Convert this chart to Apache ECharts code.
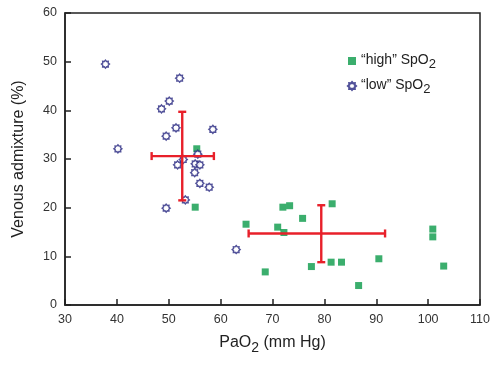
<!DOCTYPE html>
<html><head><meta charset="utf-8">
<script src="https://cdn.jsdelivr.net/npm/echarts@6/dist/echarts.min.js"></script>
<style>html,body{margin:0;padding:0;background:#fff}#c{width:500px;height:365px}</style>
</head><body><div id="c"></div>
<script>
var xTicks = [30, 40, 50, 60, 70, 80, 90, 100, 110];
var yTicks = [0, 10, 20, 30, 40, 50, 60];
var lowX = [37.8, 52.1, 50.1, 48.6, 51.4, 58.5, 49.5, 40.2, 55.6, 52.8, 51.7, 55.1, 56.0, 55.0, 56.0, 57.8, 53.2, 49.5, 63.0];
var lowY = [49.5, 46.6, 41.9, 40.3, 36.4, 36.1, 34.7, 32.1, 31.0, 29.9, 28.8, 29.0, 28.8, 27.2, 25.0, 24.2, 21.6, 19.9, 11.4];
var highX = [55.4, 55.1, 64.9, 72.0, 73.3, 75.8, 71.0, 72.2, 81.5, 68.6, 77.5, 81.3, 83.3, 90.5, 86.6, 100.9, 100.9, 103.0];
var highY = [32.1, 20.1, 16.6, 20.1, 20.4, 17.8, 16.0, 14.9, 20.8, 6.8, 7.9, 8.8, 8.8, 9.5, 4.0, 15.6, 14.0, 8.0];
// mean, x low, x high, y low, y high
var lowMean = [52.6, 30.6, 46.7, 58.7, 21.5, 39.7];
var highMean = [79.4, 14.7, 65.4, 91.7, 8.8, 20.5];

function zip(a, b) { return a.map(function (v, i) { return [v, b[i]]; }); }

// gear/star symbol
var pts = [];
for (var k = 0; k < 16; k++) {
  var r = (k % 2 === 0) ? 10 : 7.2;
  var a = k * Math.PI / 8;
  pts.push((10 + r * Math.sin(a)).toFixed(2) + ' ' + (10 - r * Math.cos(a)).toFixed(2));
}
var starPath = 'path://M' + pts.join(' L') + ' Z';

var chart = echarts.init(document.getElementById('c'));
var FONT = 'Liberation Sans, Arial, sans-serif';

function errRender(params, api) {
  var cx = api.value(0), cy = api.value(1);
  var x0 = api.value(2), x1 = api.value(3), y0 = api.value(4), y1 = api.value(5);
  var pL = api.coord([x0, cy]), pR = api.coord([x1, cy]);
  var pB = api.coord([cx, y0]), pT = api.coord([cx, y1]);
  var c = 4;
  var st = { stroke: '#e8202a', lineWidth: 2.4 };
  return {
    type: 'group',
    children: [
      { type: 'line', shape: { x1: pL[0], y1: pL[1], x2: pR[0], y2: pR[1] }, style: st },
      { type: 'line', shape: { x1: pB[0], y1: pB[1], x2: pT[0], y2: pT[1] }, style: st },
      { type: 'line', shape: { x1: pL[0], y1: pL[1] - c, x2: pL[0], y2: pL[1] + c }, style: st },
      { type: 'line', shape: { x1: pR[0], y1: pR[1] - c, x2: pR[0], y2: pR[1] + c }, style: st },
      { type: 'line', shape: { x1: pT[0] - c, y1: pT[1], x2: pT[0] + c, y2: pT[1] }, style: st },
      { type: 'line', shape: { x1: pB[0] - c, y1: pB[1], x2: pB[0] + c, y2: pB[1] }, style: st }
    ]
  };
}

var subRich = {
  a: { fontSize: 14, color: '#222', fontFamily: FONT, verticalAlign: 'top', lineHeight: 16 },
  s: { fontSize: 13, color: '#222', fontFamily: FONT, verticalAlign: 'top', lineHeight: 16, padding: [5, 0, 0, 0] }
};

chart.setOption({
  animation: false,
  grid: { left: 65, right: 20, top: 13, bottom: 60, show: true, borderColor: '#222', borderWidth: 1.5 },
  legend: {
    left: 342, top: 48, orient: 'vertical', itemGap: 7, itemWidth: 8, itemHeight: 8,
    data: [{ name: 'high' }, { name: 'low' }],
    formatter: function (n) { return '{a|\u201c' + n + '\u201d SpO}{s|2}'; },
    textStyle: { rich: subRich, padding: [0, 0, 0, 0] }
  },
  xAxis: {
    type: 'value', min: xTicks[0], max: xTicks[xTicks.length - 1], interval: 10,
    axisLine: { show: true, lineStyle: { color: '#222', width: 1.5 } },
    axisTick: { show: true, inside: true, length: 6, lineStyle: { color: '#222', width: 1.5 } },
    splitLine: { show: false },
    axisLabel: { color: '#333', fontSize: 12.5, fontFamily: FONT, margin: 8 },
    name: '{a|PaO}{s|2}{a| (mm Hg)}', nameLocation: 'middle', nameGap: 30,
    nameTextStyle: { rich: {
      a: { fontSize: 16, color: '#222', fontFamily: FONT, verticalAlign: 'top', lineHeight: 18 },
      s: { fontSize: 14, color: '#222', fontFamily: FONT, verticalAlign: 'top', lineHeight: 18, padding: [6, 0, 0, 0] }
    } }
  },
  yAxis: {
    type: 'value', min: yTicks[0], max: yTicks[yTicks.length - 1], interval: 10,
    axisLine: { show: true, lineStyle: { color: '#222', width: 1.5 } },
    axisTick: { show: true, inside: true, length: 6, lineStyle: { color: '#222', width: 1.5 } },
    splitLine: { show: false },
    axisLabel: { color: '#333', fontSize: 12.5, fontFamily: FONT, margin: 8 },
    name: 'Venous admixture (%)', nameLocation: 'middle', nameGap: 38,
    nameTextStyle: { fontSize: 16, color: '#222', fontFamily: FONT }
  },
  series: [
    { name: 'high', type: 'scatter', symbol: 'rect', symbolSize: 7, data: zip(highX, highY),
      itemStyle: { color: '#0a9a48' }, z: 3 },
    { name: 'low', type: 'scatter', symbol: starPath, symbolSize: 8, data: zip(lowX, lowY),
      itemStyle: { color: '#fff', borderColor: '#26267f', borderWidth: 1.4 }, z: 3 },
    { name: 'err', type: 'custom', renderItem: errRender, data: [lowMean, highMean], z: 4,
      encode: { x: 0, y: 1 } }
  ]
});
</script></body></html>
